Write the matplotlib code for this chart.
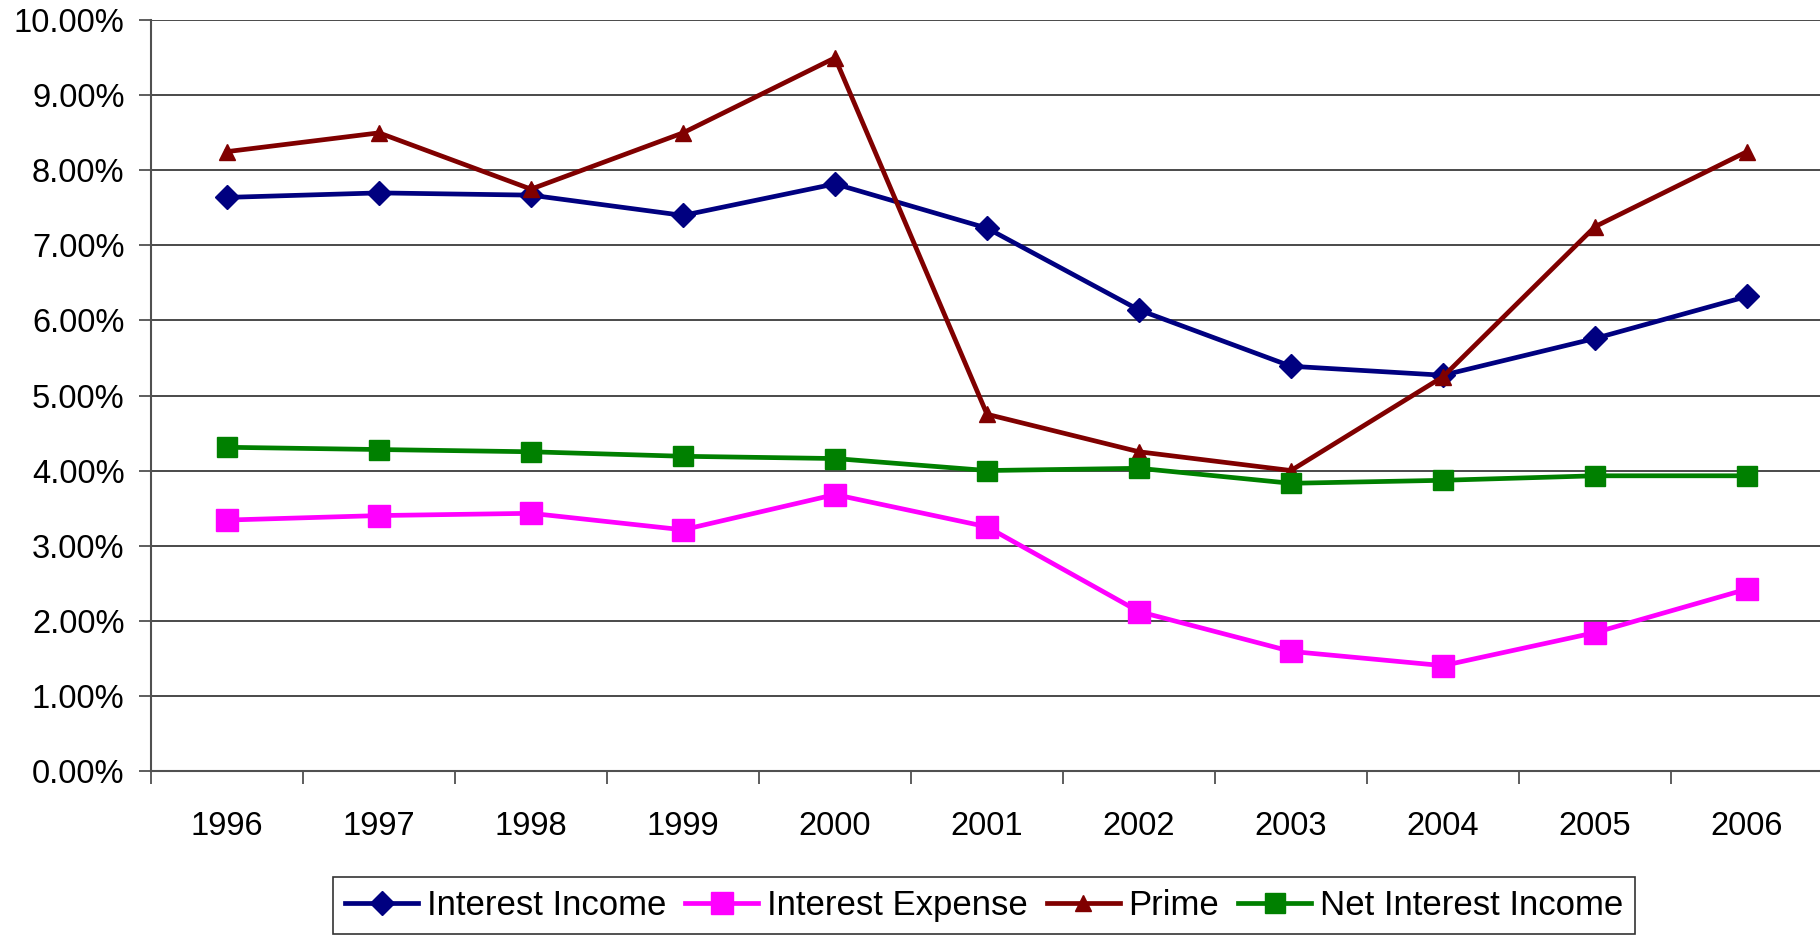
import matplotlib.pyplot as plt
from matplotlib.ticker import FuncFormatter, FixedLocator

plt.rcParams['font.family'] = ['Liberation Sans', 'DejaVu Sans']

years = ['1996', '1997', '1998', '1999', '2000', '2001', '2002', '2003', '2004', '2005', '2006']
interest_income = [7.64, 7.70, 7.67, 7.40, 7.82, 7.23, 6.14, 5.39, 5.27, 5.76, 6.32]
interest_expense = [3.34, 3.40, 3.43, 3.21, 3.68, 3.25, 2.12, 1.59, 1.40, 1.84, 2.42]
prime = [8.25, 8.50, 7.75, 8.50, 9.50, 4.75, 4.25, 4.00, 5.25, 7.25, 8.25]
net_interest_income = [4.31, 4.28, 4.25, 4.19, 4.16, 4.00, 4.03, 3.83, 3.87, 3.93, 3.93]

fig = plt.figure(figsize=(18.2, 9.35), dpi=100)
ax = fig.add_axes([151 / 1820, (935 - 770.7) / 935, (1823 - 151) / 1820, 750.4 / 935])

x = list(range(len(years)))
ax.plot(x, interest_income, color='#000080', lw=3.4, marker='D', ms=12, label='Interest Income')
ax.plot(x, interest_expense, color='#FF00FF', lw=3.4, marker='s', ms=15.5, label='Interest Expense')
ax.plot(x, prime, color='#800000', lw=3.4, marker='^', ms=11, label='Prime')
ax.plot(x, net_interest_income, color='#008000', lw=3.4, marker='s', ms=15, label='Net Interest Income')

ax.set_xlim(-0.5, len(years) - 0.5)
ax.set_ylim(0, 10)
ax.set_yticks([i for i in range(11)])
ax.yaxis.set_major_formatter(FuncFormatter(lambda v, p: f'{v:.2f}%'))
ax.grid(axis='y', color='#4a4a4a', lw=1.4)
ax.set_axisbelow(True)

# year labels sit between the boundary ticks
ax.set_xticks(x)
ax.set_xticklabels(years)
ax.xaxis.set_minor_locator(FixedLocator([i - 0.5 for i in range(len(years) + 1)]))
ax.tick_params(axis='x', which='major', length=0, pad=29, labelsize=23.5)
ax.tick_params(axis='x', which='minor', length=9, width=1.3, color='#505050')
ax.tick_params(axis='y', length=9, width=1.3, color='#505050', pad=10, labelsize=23.5)

for side in ['top', 'right']:
    ax.spines[side].set_visible(False)
for side in ['left', 'bottom']:
    ax.spines[side].set_color('#505050')
    ax.spines[side].set_linewidth(1.5)

leg = fig.legend(loc='upper left', bbox_to_anchor=(333 / 1820, 1 - 877 / 935), ncol=4,
                 fontsize=25, frameon=True, fancybox=False, borderaxespad=0,
                 handlelength=2.1, handletextpad=0.25, columnspacing=0.55, borderpad=0.35)
leg.get_frame().set_edgecolor('#000000')
leg.get_frame().set_linewidth(1.2)

plt.savefig('out.png', dpi=100)
